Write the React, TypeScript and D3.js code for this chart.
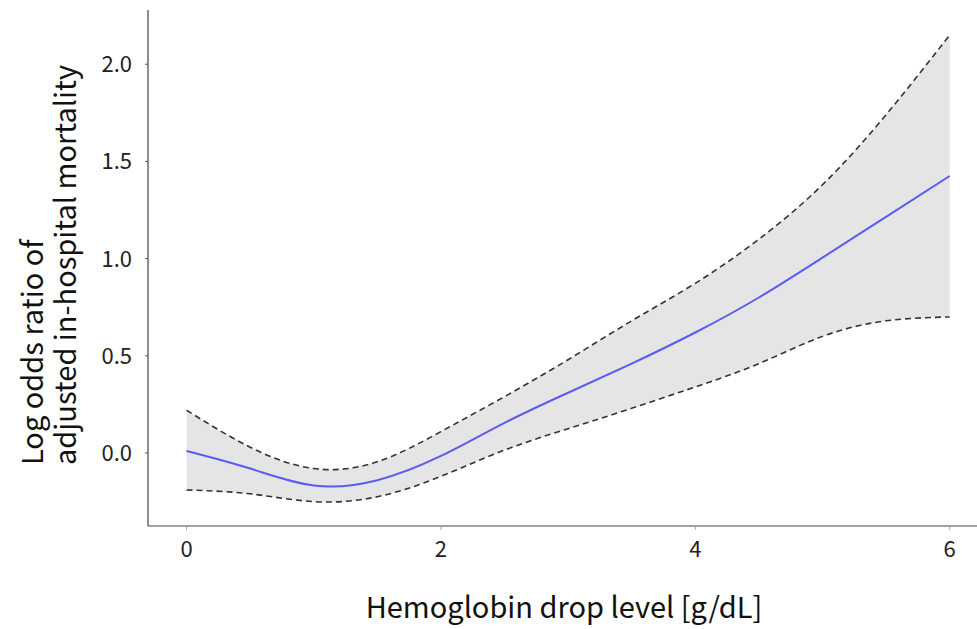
import React from "react";
import * as d3 from "d3";

// hemoglobin drop level (g/dL) and the spline fit with its 95% band
const drop = [0, 0.5, 1, 1.5, 2, 2.5, 3, 3.5, 4, 4.5, 5, 5.5, 6];
const fit = [0.01, -0.08, -0.167, -0.14, -0.015, 0.155, 0.31, 0.46, 0.62, 0.8, 1.005, 1.215, 1.425];
const upper = [0.22, 0.03, -0.08, -0.045, 0.11, 0.29, 0.48, 0.68, 0.873, 1.1, 1.38, 1.74, 2.15];
const lower = [-0.19, -0.21, -0.25, -0.225, -0.12, 0.015, 0.125, 0.23, 0.34, 0.46, 0.6, 0.68, 0.7];

const xTickVals = [0, 2, 4, 6];
const yTickVals = [0, 0.5, 1, 1.5, 2];

const width = 977, height = 629;
const font = "'Noto Sans CJK JP', 'Noto Sans', sans-serif";

const App = () => {
  const x = d3.scaleLinear().domain([-0.303, 6.215]).range([148, 977]);
  const y = d3.scaleLinear().domain([-0.3755, 2.279]).range([526, 10]);

  const rows = drop.map((d, i) => ({ x: d, fit: fit[i], lo: lower[i], hi: upper[i] }));
  const curve = d3.curveNatural;

  const band = d3.area<any>().x(d => x(d.x)).y0(d => y(d.lo)).y1(d => y(d.hi)).curve(curve);
  const fitLine = d3.line<any>().x(d => x(d.x)).y(d => y(d.fit)).curve(curve);
  const hiLine = d3.line<any>().x(d => x(d.x)).y(d => y(d.hi)).curve(curve);
  const loLine = d3.line<any>().x(d => x(d.x)).y(d => y(d.lo)).curve(curve);

  const [x0, x1] = x.range();
  const [y0, y1] = y.range();

  return (
    <svg width={width} height={height} style={{ position: "absolute", left: 0, top: 0 }} fontFamily={font}>
      <path d={band(rows) || ""} fill="#e5e5e5" />
      <path d={hiLine(rows) || ""} fill="none" stroke="#333" strokeWidth={1.6} strokeDasharray="6,4" />
      <path d={loLine(rows) || ""} fill="none" stroke="#333" strokeWidth={1.6} strokeDasharray="6,4" />
      <path d={fitLine(rows) || ""} fill="none" stroke="#5b5bf2" strokeWidth={2} />

      <line x1={x0} x2={x1} y1={y0} y2={y0} stroke="#444" strokeWidth={1.2} />
      <line x1={x0} x2={x0} y1={y0} y2={y1} stroke="#444" strokeWidth={1.2} />

      {xTickVals.map(d => (
        <g key={d} transform={`translate(${x(d)},${y0})`}>
          <line y1={1} y2={4} stroke="#aaa" />
          <text y={31} textAnchor="middle" fontSize={22} fill="#222">{d}</text>
        </g>
      ))}
      {yTickVals.map(d => (
        <g key={d} transform={`translate(${x0},${y(d)})`}>
          <line x1={-3} x2={0} stroke="#555" />
          <text x={-16} dy="0.36em" textAnchor="end" fontSize={22} fill="#222">{d.toFixed(1)}</text>
        </g>
      ))}

      <text x={564} y={618} textAnchor="middle" fontSize={29} fill="#111">Hemoglobin drop level [g/dL]</text>
      <g transform="translate(0,465) rotate(-90)" fontSize={29} fill="#111" textAnchor="start">
        <text y={43}>Log odds ratio of</text>
        <text y={76}>adjusted in-hospital mortality</text>
      </g>
    </svg>
  );
};

export default App;
